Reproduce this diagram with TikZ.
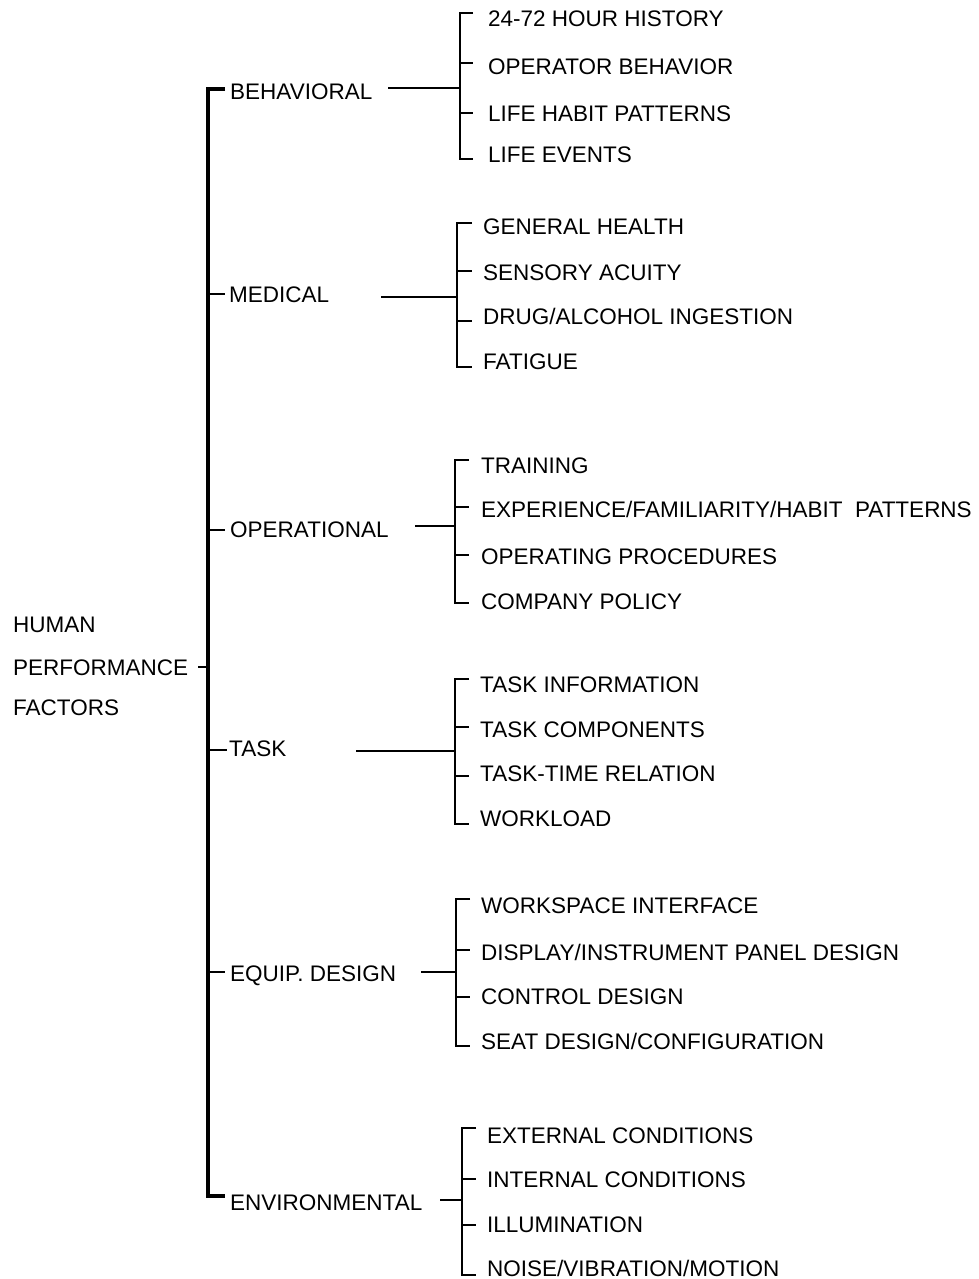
\documentclass[tikz,border=0pt]{standalone}
\usepackage{fontspec}
\setmainfont{Liberation Sans}
\begin{document}
\begin{tikzpicture}[x=1pt,y=-1pt,
  lbl/.style={anchor=west, inner sep=0pt, text height=16pt, text depth=0pt, font=\fontsize{22.5}{26}\selectfont},
  spine/.style={line width=3.5pt, line join=miter},
  brk/.style={line width=2.6pt, line join=miter},
  tickl/.style={line width=2.4pt},
  conn/.style={line width=2.2pt}]
\useasboundingbox (0,0) rectangle (979,1279);

% root
\node[lbl] (hum) at (13,624) {HUMAN};
\node[lbl] (perf) at (13,667) {PERFORMANCE};
\node[lbl] (fac) at (13,707) {FACTORS};
\coordinate (rootT) at (198,667);
\coordinate (spR) at (208,667);
\draw[tickl] (rootT) -- (spR);

% main spine
\coordinate (spTop) at (208,89);
\coordinate (spBot) at (208,1196);
\draw[spine] (225,89) -- (spTop) -- (spBot) -- (225,1196);

% categories
\node[lbl] (beh) at (230,92) {BEHAVIORAL};
\node[lbl] (med) at (229,294) {MEDICAL};
\node[lbl] (ope) at (230,529) {OPERATIONAL};
\node[lbl] (tsk) at (229,748) {TASK};
\node[lbl] (eqp) at (230,973) {EQUIP. DESIGN};
\node[lbl] (env) at (230,1202) {ENVIRONMENTAL};

\draw[tickl] (208,294) -- (225,294);
\draw[tickl] (208,530) -- (225,530);
\draw[tickl] (208,750) -- (227,750);
\draw[tickl] (208,972) -- (225,972);

% ---------- BEHAVIORAL ----------
\coordinate (begB) at (388,88);
\coordinate (brB) at (460,88);
\draw[conn] (begB) -- (brB);
\draw[brk] (473,13) -- (460,13) -- (460,159) -- (473,159);
\draw[tickl] (460,63) -- (473,63);
\draw[tickl] (460,113) -- (473,113);
\node[lbl] (b1) at (488,19) {24-72 HOUR HISTORY};
\node[lbl] (b2) at (488,67) {OPERATOR BEHAVIOR};
\node[lbl] (b3) at (488,114) {LIFE HABIT PATTERNS};
\node[lbl] (b4) at (488,154) {LIFE EVENTS};

% ---------- MEDICAL ----------
\coordinate (begM) at (381,297);
\coordinate (brM) at (457,297);
\draw[conn] (begM) -- (brM);
\draw[brk] (472,223) -- (457,223) -- (457,367) -- (472,367);
\draw[tickl] (457,271) -- (472,271);
\draw[tickl] (457,321) -- (472,321);
\node[lbl] (m1) at (483,226) {GENERAL HEALTH};
\node[lbl] (m2) at (483,272) {SENSORY ACUITY};
\node[lbl] (m3) at (483,316) {DRUG/ALCOHOL INGESTION};
\node[lbl] (m4) at (483,361) {FATIGUE};

% ---------- OPERATIONAL ----------
\coordinate (begO) at (415,526);
\coordinate (brO) at (455,526);
\draw[conn] (begO) -- (brO);
\draw[brk] (469,460) -- (455,460) -- (455,603) -- (469,603);
\draw[tickl] (455,507) -- (469,507);
\draw[tickl] (455,555) -- (469,555);
\node[lbl] (o1) at (481,465) {TRAINING};
\node[lbl] (o2) at (481,509) {EXPERIENCE/FAMILIARITY/HABIT\ \ PATTERNS};
\node[lbl] (o3) at (481,556) {OPERATING PROCEDURES};
\node[lbl] (o4) at (481,601) {COMPANY POLICY};

% ---------- TASK ----------
\coordinate (begT) at (356,751);
\coordinate (brT) at (455,751);
\draw[conn] (begT) -- (brT);
\draw[brk] (469,679) -- (455,679) -- (455,824) -- (469,824);
\draw[tickl] (455,727) -- (469,727);
\draw[tickl] (455,776) -- (469,776);
\node[lbl] (t1) at (480,684) {TASK INFORMATION};
\node[lbl] (t2) at (480,729) {TASK COMPONENTS};
\node[lbl] (t3) at (480,773) {TASK-TIME RELATION};
\node[lbl] (t4) at (480,818) {WORKLOAD};

% ---------- EQUIP. DESIGN ----------
\coordinate (begE) at (421,972);
\coordinate (brE) at (456,972);
\draw[conn] (begE) -- (brE);
\draw[brk] (470,899) -- (456,899) -- (456,1046) -- (470,1046);
\draw[tickl] (456,950) -- (470,950);
\draw[tickl] (456,997) -- (470,997);
\node[lbl] (e1) at (481,905) {WORKSPACE INTERFACE};
\node[lbl] (e2) at (481,952) {DISPLAY/INSTRUMENT PANEL DESIGN};
\node[lbl] (e3) at (481,996) {CONTROL DESIGN};
\node[lbl] (e4) at (481,1041) {SEAT DESIGN/CONFIGURATION};

% ---------- ENVIRONMENTAL ----------
\coordinate (begV) at (440,1200);
\coordinate (brV) at (462,1200);
\draw[conn] (begV) -- (brV);
\draw[brk] (476,1128) -- (462,1128) -- (462,1275) -- (476,1275);
\draw[tickl] (462,1179) -- (476,1179);
\draw[tickl] (462,1225) -- (476,1225);
\node[lbl] (v1) at (487,1135) {EXTERNAL CONDITIONS};
\node[lbl] (v2) at (487,1179) {INTERNAL CONDITIONS};
\node[lbl] (v3) at (487,1224) {ILLUMINATION};
\node[lbl] (v4) at (487,1268) {NOISE/VIBRATION/MOTION};
\end{tikzpicture}
\end{document}
